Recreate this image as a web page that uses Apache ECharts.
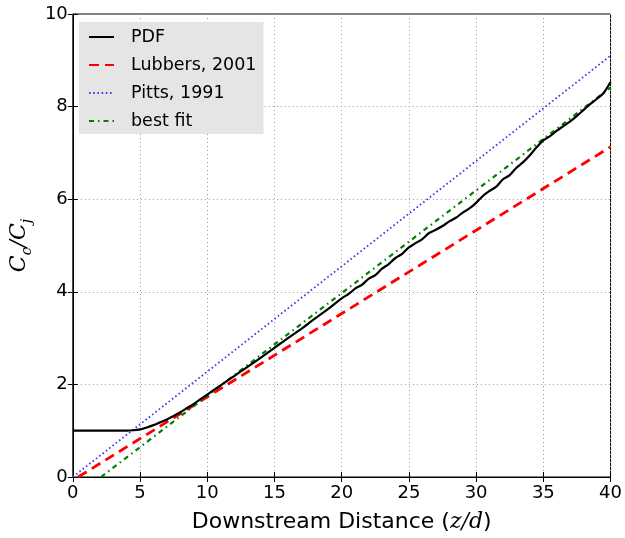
<!DOCTYPE html>
<html>
<head>
<meta charset="utf-8">
<script src="https://cdn.jsdelivr.net/npm/echarts@6/dist/echarts.min.js"></script>
<style>
  html, body { margin: 0; padding: 0; background: #fff; }
  #chart { width: 625px; height: 538px; }
</style>
</head>
<body>
<div id="chart"></div>
<script>
  // values
  var pdfX = [0, 1, 2, 3, 4, 4.5, 5, 5.5, 6, 6.5, 7, 7.5, 8, 8.5, 9, 9.5, 10,
    11, 12, 13, 14, 15, 16, 17, 18, 19, 20, 20.5, 21, 21.5, 22, 22.5, 23, 23.5, 24, 24.5, 25,
    25.5, 26, 26.5, 27, 27.5, 28, 28.5, 29, 29.5, 30, 30.5, 31, 31.5, 32, 32.5, 33, 33.5, 34,
    34.5, 35, 35.5, 36, 36.5, 37, 37.5, 38, 38.5, 39, 39.5, 40];
  var pdfY = [1.0, 1.0, 1.0, 1.0, 1.0, 1.01, 1.03, 1.07, 1.12, 1.18, 1.24, 1.32, 1.40, 1.49, 1.58, 1.68, 1.78,
    1.98, 2.18, 2.38, 2.58, 2.79, 3.0, 3.2, 3.42, 3.63, 3.86, 3.95, 4.07, 4.15, 4.28, 4.36, 4.50, 4.60, 4.73, 4.82, 4.96,
    5.05, 5.14, 5.27, 5.34, 5.42, 5.52, 5.60, 5.71, 5.80, 5.92, 6.07, 6.18, 6.27, 6.43, 6.52, 6.68, 6.80, 6.95,
    7.12, 7.27, 7.36, 7.48, 7.58, 7.68, 7.80, 7.93, 8.06, 8.17, 8.30, 8.53];
  var lubbersX = [0.4, 40];
  var lubbersY = [0, 7.13];
  var pittsX = [0, 40];
  var pittsY = [0, 9.1];
  var fitX = [2.1, 40];
  var fitY = [0, 8.41];
  var xTicks = [0, 5, 10, 15, 20, 25, 30, 35, 40];
  var yTicks = [0, 2, 4, 6, 8, 10];

  function pairs(xs, ys) {
    return xs.map(function (x, i) { return [x, ys[i]]; });
  }

  var font = 'DejaVu Sans';
  var chart = echarts.init(document.getElementById('chart'));
  var option = {
    animation: false,
    backgroundColor: '#fff',
    grid: { left: 71, right: 12, top: 14, bottom: 54, show: true, borderColor: '#000', borderWidth: 1 },
    legend: {
      left: 79, top: 22, orient: 'vertical',
      backgroundColor: '#e5e5e5', borderWidth: 0,
      padding: [6, 7, 4, 9], itemGap: 10, itemWidth: 25, itemHeight: 14,
      itemStyle: { opacity: 0 },
      textStyle: { fontFamily: font, fontSize: 17.5, color: '#000', padding: [0, 0, 0, 12] },
      data: ['PDF', 'Lubbers, 2001', 'Pitts, 1991', 'best fit']
    },
    xAxis: [{
      type: 'value', min: xTicks[0], max: xTicks[xTicks.length - 1], interval: 5,
      name: '{t|Downstream Distance (}{m|z/d}{t|)}', nameLocation: 'middle', nameGap: 34,
      nameTextStyle: { rich: {
        t: { fontFamily: font, fontSize: 22, color: '#000' },
        m: { fontFamily: 'DejaVu Serif', fontStyle: 'italic', fontSize: 22, color: '#000' }
      } },
      axisLine: { show: true, lineStyle: { color: '#000' } },
      axisTick: { show: true, inside: true, length: 5, lineStyle: { color: '#000' } },
      axisLabel: { fontFamily: font, fontSize: 18, color: '#000', margin: 7 },
      splitLine: { show: true, lineStyle: { color: '#999', type: [1, 3] } }
    }, {
      type: 'value', position: 'top', min: 0, max: 40, interval: 5,
      axisLine: { show: false }, axisLabel: { show: false }, splitLine: { show: false },
      axisTick: { show: true, inside: true, length: 5, lineStyle: { color: '#000' } }
    }],
    yAxis: [{
      type: 'value', min: yTicks[0], max: yTicks[yTicks.length - 1], interval: 2,
      name: '{c|C}{s|c}{c|/C}{s|j}', nameLocation: 'middle', nameGap: 35, nameRotate: 90,
      nameTextStyle: { rich: {
        c: { fontFamily: 'DejaVu Serif', fontStyle: 'italic', fontSize: 22, color: '#000', lineHeight: 30 },
        s: { fontFamily: 'DejaVu Serif', fontStyle: 'italic', fontSize: 14, color: '#000', lineHeight: 30, verticalAlign: 'bottom' }
      } },
      axisLine: { show: true, lineStyle: { color: '#000' } },
      axisTick: { show: true, inside: true, length: 5, lineStyle: { color: '#000' } },
      axisLabel: { fontFamily: font, fontSize: 18, color: '#000', margin: 5 },
      splitLine: { show: true, lineStyle: { color: '#999', type: [1, 3] } }
    }, {
      type: 'value', position: 'right', min: 0, max: 10, interval: 2,
      axisLine: { show: false }, axisLabel: { show: false }, splitLine: { show: false },
      axisTick: { show: true, inside: true, length: 5, lineStyle: { color: '#000' } }
    }],
    series: [
      { name: 'PDF', type: 'line', showSymbol: false, symbol: 'none', smooth: 0.3,
        data: pairs(pdfX, pdfY), lineStyle: { color: '#000', width: 2.2 }, itemStyle: { color: '#000' }, z: 5 },
      { name: 'Lubbers, 2001', type: 'line', symbol: 'none',
        data: pairs(lubbersX, lubbersY), lineStyle: { color: '#ff0000', width: 2.8, type: [10, 6] }, itemStyle: { color: '#ff0000' } },
      { name: 'Pitts, 1991', type: 'line', symbol: 'none',
        data: pairs(pittsX, pittsY), lineStyle: { color: '#3a3aee', width: 1.8, type: [1.6, 2.6] }, itemStyle: { color: '#3a3aee' } },
      { name: 'best fit', type: 'line', symbol: 'none',
        data: pairs(fitX, fitY), lineStyle: { color: '#008000', width: 2.2, type: [5, 4, 1.5, 4] }, itemStyle: { color: '#008000' } }
    ]
  };
  chart.setOption(option);
</script>
</body>
</html>
